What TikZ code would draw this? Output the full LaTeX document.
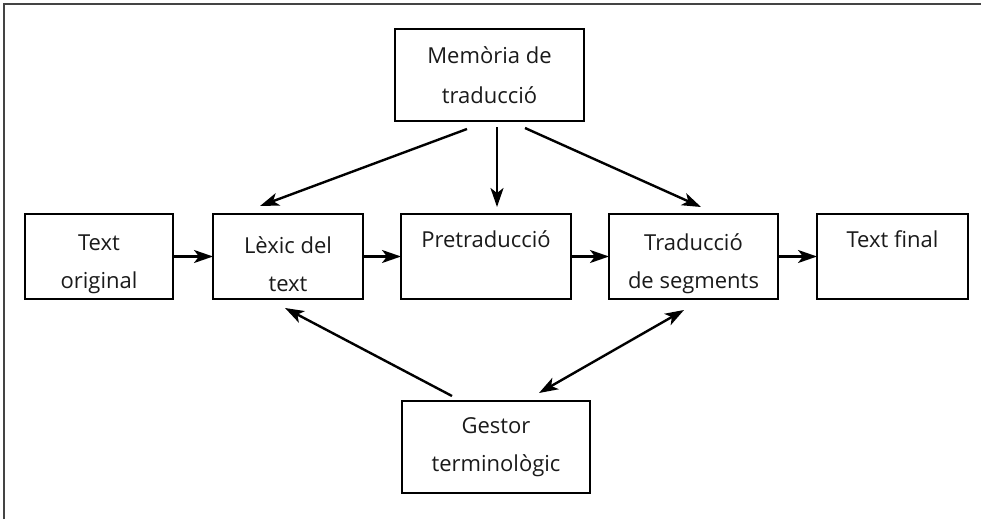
\documentclass[tikz,border=0pt]{standalone}
\usepackage{fontspec}
\setmainfont{Open Sans}
\usetikzlibrary{arrows.meta,calc}
\definecolor{txt}{HTML}{1A1A1A}
\definecolor{frame}{HTML}{444444}
\newcommand{\tp}{\rule{0pt}{32pt}}
\tikzset{
  box/.style={draw=black, line width=1.3pt, rectangle, align=center, inner sep=0pt, outer sep=0pt,
    font=\fontsize{22}{38}\selectfont, text=txt},
  tip/.tip={Stealth[length=19pt,width=13pt,inset=5pt]},
  arr/.style={line width=2.4pt, -tip},
  darr/.style={line width=2.4pt, tip-tip}
}
\begin{document}
\begin{tikzpicture}[x=1pt,y=-1pt]
\path[use as bounding box, fill=white] (0,0) rectangle (981,519);
\coordinate (fbl) at (4,519);
\coordinate (ftl) at (4,4);
\coordinate (ftr) at (981,4);
\draw[frame, line width=2pt] (fbl) -- (ftl) -- (ftr);

\node[box, minimum width=148pt, minimum height=85pt] (orig) at (99,256.5) {\tp Text\\original};
\node[box, minimum width=150pt, minimum height=85pt] (lex) at (288,256.5) {\tp Lèxic del\\text};
\node[box, minimum width=170pt, minimum height=85pt] (pre) at (486,256.5) {\tp Pretraducció\\\strut};
\node[box, minimum width=169pt, minimum height=85pt] (trad) at (693.5,256.5) {\tp Traducció\\de segments};
\node[box, minimum width=151pt, minimum height=85pt] (fin) at (892.5,256.5) {\tp Text final\\\strut};
\node[box, minimum width=189pt, minimum height=92pt, font=\fontsize{22}{40}\selectfont] (mem) at (489.5,75) {Memòria de\\traducció};
\node[box, minimum width=188pt, minimum height=92pt] (gest) at (496,447) {Gestor\\terminològic};

\draw[arr] (orig.east) -- (lex.west);
\draw[arr] (lex.east) -- (pre.west);
\draw[arr] (pre.east) -- (trad.west);
\draw[arr] (trad.east) -- (fin.west);

\draw[arr] ($(mem.south)+(-22.5,8)$) -- ($(lex.north)+(-28,-8)$);
\draw[arr] ($(mem.south)+(7.5,6)$) -- ($(pre.north)+(11,-7)$);
\draw[arr] ($(mem.south)+(35.5,7)$) -- ($(trad.north)+(7.5,-7)$);
\draw[arr] ($(gest.north)+(-44,-5)$) -- ($(lex.south)+(-3,9)$);
\draw[darr] ($(gest.north)+(43,-8)$) -- ($(trad.south)+(-9.5,11)$);
\end{tikzpicture}
\end{document}
